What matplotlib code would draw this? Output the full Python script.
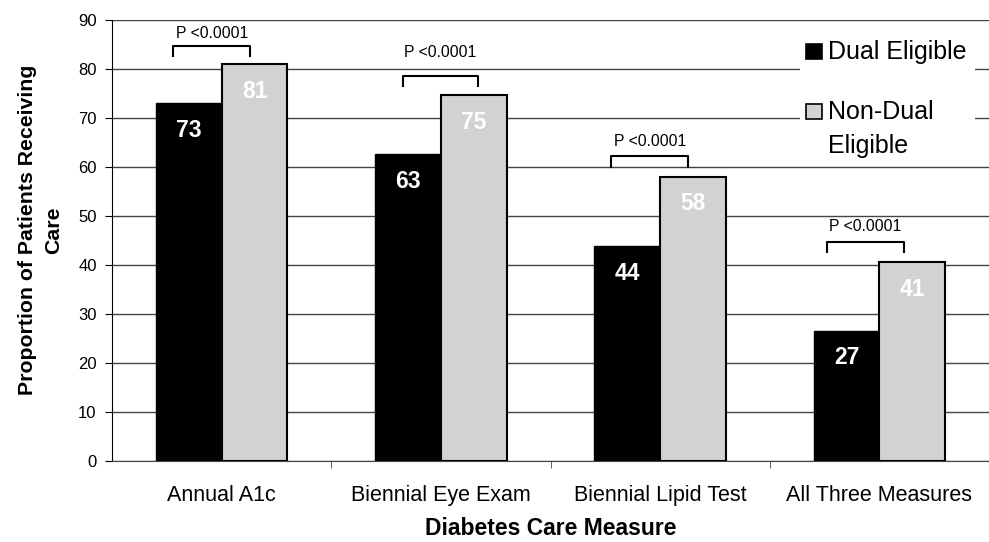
import matplotlib
matplotlib.use("Agg")
import matplotlib.pyplot as plt
import numpy as np
from matplotlib.patches import Rectangle

plt.rcParams['font.family'] = ['Liberation Sans', 'DejaVu Sans']

categories = ["Annual A1c", "Biennial Eye Exam", "Biennial Lipid Test", "All Three Measures"]
dual = [73, 62.6, 43.8, 26.6]
nondual = [81, 74.6, 58, 40.6]
series_names = ["Dual Eligible", "Non-Dual\nEligible"]
series_colors = ['black', '#d2d2d2']
p_text = "P <0.0001"
yticks = list(range(0, 100, 10))

W, H = 989, 542
fig = plt.figure(figsize=(W/100, H/100), dpi=100)
ax = fig.add_axes([112/W, 1 - 461/H, (W - 112)/W, (461 - 20)/H])

def fx(px):
    return px / W

def fy(py):
    return 1 - py / H

x = np.arange(len(categories))
w = 0.3
b1 = ax.bar(x - w/2, dual, w, color=series_colors[0], edgecolor='black', linewidth=1, zorder=3)
b2 = ax.bar(x + w/2, nondual, w, color=series_colors[1], edgecolor='black', linewidth=1.5, zorder=3)

for bars, vals in ((b1, dual), (b2, nondual)):
    for rect, v in zip(bars, vals):
        ax.text(rect.get_x() + rect.get_width()/2, v - 5.5, f"{round(v)}", color='white',
                fontsize=16.5, fontweight='bold', ha='center', va='center', zorder=4)

# significance brackets (layout annotations)
brackets = [(-0.22, 0.13, 84.7, 87.3), (-0.174, 0.17, 78.6, 83.3),
            (-0.224, 0.129, 62.2, 65.3), (-0.238, 0.111, 44.7, 47.8)]
for i, (l, r, yb, yt) in enumerate(brackets):
    ax.plot([i + l, i + l, i + r, i + r], [yb - 2.1, yb, yb, yb - 2.1], color='black', lw=1.5, zorder=5)
    ax.text(i + (l + r)/2, yt, p_text, ha='center', va='center', fontsize=11.3, zorder=5)

ax.set_ylim(0, 90)
ax.set_xlim(-0.5, -0.5 + (W - 112)/221)
ax.set_yticks(yticks)
ax.set_yticklabels([str(t) for t in yticks], fontsize=12)
ax.yaxis.grid(True, color='#444444', linewidth=1, zorder=0)
ax.set_axisbelow(True)
ax.set_xticks(x)
ax.set_xticklabels(categories, fontsize=15.5)
ax.tick_params(axis='x', length=0, pad=17)
ax.set_xticks(np.arange(0.5, len(categories) - 0.5 + 0.01, 1), minor=True)
ax.tick_params(axis='x', which='minor', length=5, color='#444444')
ax.tick_params(axis='y', length=5, direction='out', pad=6)
for s in ['top', 'right']:
    ax.spines[s].set_visible(False)
ax.spines['bottom'].set_color('#444444')
ax.spines['left'].set_color('black')

ax.set_ylabel("Proportion of Patients Receiving\nCare", fontsize=15.3, fontweight='bold',
              linespacing=1.45)
ax.yaxis.set_label_coords(-0.056, 0.524)
ax.set_xlabel("Diabetes Care Measure", fontsize=16.5, fontweight='bold', va='top')
ax.xaxis.set_label_coords(0.5, -0.127)

# legend (drawn manually to match the original layout)
ax.add_patch(Rectangle((fx(800), fy(160)), fx(975) - fx(800), fy(25) - fy(160),
                       transform=fig.transFigure, facecolor='white', edgecolor='none', zorder=2))
sq_tops = [44, 104]
text_tops = [40, 100]
for name, col, st, tt in zip(series_names, series_colors, sq_tops, text_tops):
    ax.add_patch(Rectangle((fx(806), fy(st + 15)), fx(16), 15/H, transform=fig.transFigure,
                           facecolor=col, edgecolor='black', linewidth=1.2, zorder=6,
                           clip_on=False))
    fig.text(fx(828), fy(tt), name, fontsize=18, ha='left', va='top', linespacing=1.55, zorder=6)

fig.savefig("out.png", dpi=100)
